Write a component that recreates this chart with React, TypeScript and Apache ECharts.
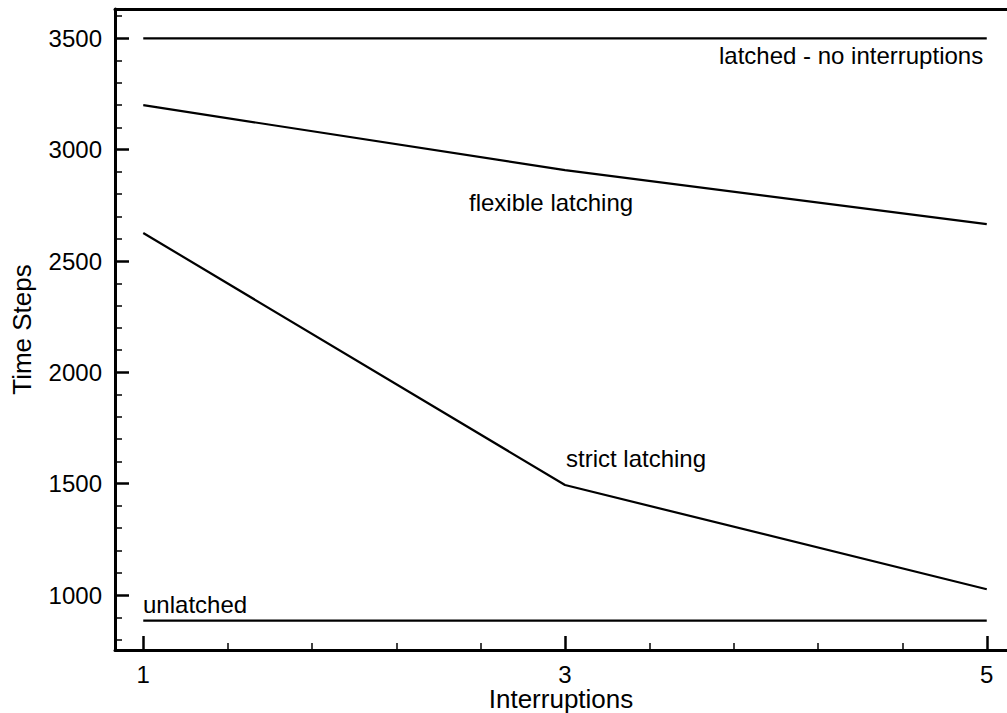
import React, { useEffect, useRef } from "react";
import * as echarts from "echarts";

const xValues = [1, 3, 5];
const latchedNoInt = [3500, 3500, 3500];
const flexibleLatching = [3200, 2908, 2666];
const strictLatching = [2626, 1494, 1026];
const unlatched = [885, 885, 885];

const xTickLabels = [1, 3, 5];
const xMinorTicks = [1.4, 1.8, 2.2, 2.6, 3.4, 3.8, 4.2, 4.6];
const yTickLabels = [1000, 1500, 2000, 2500, 3000, 3500];
const yMinorTicks = [800, 900, 1100, 1200, 1300, 1400, 1600, 1700, 1800, 1900, 2100, 2200, 2300, 2400, 2600, 2700, 2800, 2900, 3100, 3200, 3300, 3400, 3600];

const FONT = "'Liberation Sans', Arial, Helvetica, sans-serif";

export default function App() {
  const ref = useRef<HTMLDivElement>(null);
  useEffect(() => {
    document.body.style.margin = "0";
    const chart = echarts.init(ref.current!, null, { renderer: "svg" });
    const X_MIN = 0.866, X_MAX = 5.096, Y_MIN = 753, Y_MAX = 3632;
    const lineSeries = (name: string, vals: number[]) => ({
      name,
      type: "line",
      data: xValues.map((x, i) => [x, vals[i]]),
      symbol: "none",
      lineStyle: { color: "#000", width: 2.2 },
      xAxisIndex: 0,
      yAxisIndex: 0,
    });
    const annText = (text: string, x: number, y: number) => ({
      type: "text",
      x,
      y,
      style: { text, fill: "#000", font: `24px ${FONT}`, textVerticalAlign: "middle", textAlign: "left" },
    });
    chart.setOption({
      animation: false,
      backgroundColor: "#fff",
      grid: { left: 115, right: 0, top: 9, bottom: 63, containLabel: false, outerBoundsMode: "none" },
      xAxis: [
        {
          type: "value",
          min: X_MIN,
          max: X_MAX,
          position: "bottom",
          name: "Interruptions",
          nameLocation: "middle",
          nameGap: 37,
          nameMoveOverlap: false,
          nameTextStyle: { fontFamily: FONT, fontSize: 26, lineHeight: 24, color: "#000" },
          axisLine: { show: true, onZero: false, lineStyle: { color: "#000", width: 3 } },
          axisTick: { show: true, inside: true, length: 14, customValues: xTickLabels, lineStyle: { color: "#000", width: 2.5 } },
          axisLabel: { show: true, customValues: xTickLabels, margin: 15, fontFamily: FONT, fontSize: 24, lineHeight: 18, color: "#000", formatter: (v: number) => String(v) },
          splitLine: { show: false },
        },
        {
          type: "value",
          min: X_MIN,
          max: X_MAX,
          position: "bottom",
          offset: 0,
          axisLine: { show: false, onZero: false },
          axisTick: { show: true, inside: true, length: 7, customValues: xMinorTicks, lineStyle: { color: "#000", width: 1.5 } },
          axisLabel: { show: false },
          splitLine: { show: false },
        },
        {
          type: "value",
          min: X_MIN,
          max: X_MAX,
          position: "top",
          axisLine: { show: true, onZero: false, lineStyle: { color: "#000", width: 3 } },
          axisTick: { show: false },
          axisLabel: { show: false },
          splitLine: { show: false },
        },
      ],
      yAxis: [
        {
          type: "value",
          min: Y_MIN,
          max: Y_MAX,
          position: "left",
          name: "Time Steps",
          nameLocation: "middle",
          nameGap: 80,
          nameMoveOverlap: false,
          nameTextStyle: { fontFamily: FONT, fontSize: 26, color: "#000" },
          axisLine: { show: true, onZero: false, lineStyle: { color: "#000", width: 3 } },
          axisTick: { show: true, inside: true, length: 14, customValues: yTickLabels, lineStyle: { color: "#000", width: 2.5 } },
          axisLabel: { show: true, customValues: yTickLabels, margin: 13, fontFamily: FONT, fontSize: 24, color: "#000", formatter: (v: number) => String(v) },
          splitLine: { show: false },
        },
        {
          type: "value",
          min: Y_MIN,
          max: Y_MAX,
          position: "left",
          offset: 0,
          axisLine: { show: false, onZero: false },
          axisTick: { show: true, inside: true, length: 7, customValues: yMinorTicks, lineStyle: { color: "#000", width: 1.5 } },
          axisLabel: { show: false },
          splitLine: { show: false },
        },
      ],
      series: [
        lineSeries("latched - no interruptions", latchedNoInt),
        lineSeries("flexible latching", flexibleLatching),
        lineSeries("strict latching", strictLatching),
        lineSeries("unlatched", unlatched),
      ],
      graphic: [
        annText("latched - no interruptions", 719, 55),
        annText("flexible latching", 469, 202),
        annText("strict latching", 566, 458),
        annText("unlatched", 143, 604),
      ],
    });
    return () => chart.dispose();
  }, []);
  return <div ref={ref} style={{ width: 1007, height: 713 }} />;
}
